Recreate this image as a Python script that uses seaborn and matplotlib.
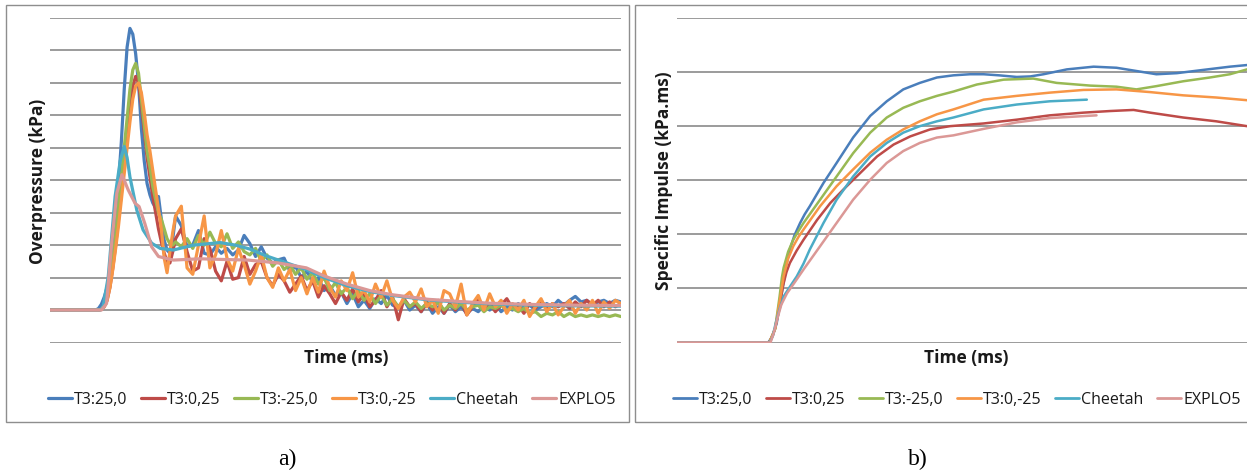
import numpy as np
import pandas as pd
import matplotlib
matplotlib.use("Agg")
import matplotlib.pyplot as plt
import seaborn as sns
from matplotlib.patches import Rectangle
from matplotlib.lines import Line2D

sns.set_theme(style="white")
plt.rcParams["font.family"] = ["Open Sans", "DejaVu Sans"]

series_names = ["T3:25,0", "T3:0,25", "T3:-25,0", "T3:0,-25", "Cheetah", "EXPLO5"]
series_colors = ["#4A7EBB", "#BE4B48", "#98B954", "#F79646", "#4BACC6", "#DB9896"]

# ---------------- a) overpressure histories ----------------
# sample times shared by the four T3 gauges (fine around the peak)
t_gauge = np.concatenate([[0, 4], np.arange(8, 22.5, 0.5), np.arange(23, 101, 1)])

p_t3_25_0 = [
    0, 0, 0.0, 0.05, 0.18, 0.4, 0.7, 1.2, 1.9, 2.8, 3.9, 5.2, 6.8, 8.1, 8.68, 8.5,
    7.9, 7.0, 5.6, 4.6, 3.9, 3.55, 3.3, 3.15, 3.5, 2.8, 2.15, 1.85, 1.75, 2.2, 2.9,
    2.6, 1.95, 2.0, 2.45, 1.75, 1.7, 1.95, 1.75, 1.9, 1.7, 1.85, 2.3, 2.05, 1.65, 1.95, 1.6,
    1.45, 1.55, 1.6, 1.2, 1.35, 1.0, 1.2, 0.85, 1.0, 0.6, 0.75, 0.45, 0.55, 0.2, 0.5, 0.1,
    0.3, 0.05, 0.35, 0.2, 0.45, 0.15, 0.1, 0.3, 0.0, 0.15, -0.05, 0.2, -0.1, 0.1, -0.1, 0.15,
    -0.05, 0.1, -0.1, 0.05, -0.05, 0.15, 0.0, 0.2, -0.05, 0.1, 0.0, 0.2, 0.05, 0.15, 0.0, 0.1,
    0.2, 0.1, 0.3, 0.15, 0.3, 0.42, 0.25, 0.3, 0.15, 0.25, 0.3, 0.2, 0.3, 0.25,
]
p_t3_0_25 = [
    0, 0, 0, 0, 0.02, 0.1, 0.3, 0.7, 1.3, 2.0, 2.8, 3.6, 4.5, 5.4, 6.3, 6.9,
    7.2, 7.0, 6.3, 5.5, 4.7, 4.1, 3.5, 3.0, 2.5, 2.1, 1.75, 1.5, 1.45, 1.8, 2.2,
    2.5, 1.8, 1.2, 1.3, 2.2, 1.9, 1.2, 0.9, 1.5, 0.95, 1.0, 1.65, 1.1, 1.4, 1.5, 1.0,
    0.75, 1.1, 0.9, 0.55, 0.8, 1.05, 0.6, 0.9, 0.4, 0.75, 0.5, 0.2, 0.55, 0.3, 0.65, 0.25,
    0.5, 0.1, 0.3, 0.6, 0.1, 0.4, -0.3, 0.35, 0.1, 0.2, -0.05, 0.25, 0.0, 0.3, -0.1, 0.2,
    0.0, 0.25, -0.15, 0.1, 0.3, 0.0, 0.2, -0.05, 0.15, 0.35, 0.05, 0.15, -0.1, 0.2, 0.05, 0.3,
    0.05, 0.2, 0.1, 0.2, 0.05, 0.25, 0.1, 0.3, 0.15, 0.3, 0.1, 0.25, 0.1, 0.2,
]
p_t3_m25_0 = [
    0, 0, 0, 0, 0.03, 0.15, 0.4, 0.85, 1.5, 2.3, 3.2, 4.1, 5.0, 5.9, 6.8, 7.4,
    7.6, 7.3, 6.5, 5.7, 4.9, 4.4, 3.8, 3.4, 3.0, 2.8, 2.5, 2.2, 2.05, 2.0, 2.1,
    1.95, 2.2, 1.9, 2.3, 2.0, 2.4, 2.05, 1.95, 2.35, 1.9, 2.1, 1.8, 1.7, 1.9, 1.5, 1.7,
    1.35, 1.55, 1.25, 1.4, 1.1, 1.3, 0.95, 1.15, 0.8, 1.0, 0.6, 0.85, 0.5, 0.7, 0.35, 0.6,
    0.3, 0.5, 0.2, 0.45, 0.15, 0.35, 0.1, 0.3, 0.1, 0.25, 0.05, 0.2, 0.1, 0.25, 0.0, 0.15,
    0.05, 0.2, 0.0, 0.1, 0.15, -0.05, 0.1, 0.05, 0.15, 0.0, 0.05, -0.05, 0.05, -0.1, -0.05, -0.2,
    -0.1, -0.15, -0.05, -0.2, -0.1, -0.2, -0.15, -0.2, -0.15, -0.2, -0.15, -0.2, -0.15, -0.2,
]
p_t3_0_m25 = [
    0, 0, 0, 0, 0.02, 0.1, 0.3, 0.7, 1.25, 1.9, 2.6, 3.4, 4.2, 5.0, 5.8, 6.5,
    6.9, 7.0, 6.7, 6.1, 5.4, 4.9, 4.3, 3.7, 3.1, 2.5, 1.6, 1.15, 1.8, 2.4, 2.9,
    3.2, 1.3, 1.1, 2.0, 2.9, 1.3, 1.7, 2.45, 1.6, 1.2, 1.9, 1.4, 0.8, 1.2, 1.7, 1.0,
    0.7, 1.3, 0.9, 1.25, 0.6, 1.0, 0.5, 1.0, 0.55, 1.2, 0.7, 0.4, 0.9, 0.6, 1.15, 0.4,
    0.6, 0.25, 0.8, 0.4, 0.9, 0.3, 0.05, 0.4, 0.55, 0.25, 0.65, 0.1, 0.3, -0.1, 0.6, 0.5,
    0.1, 0.8, -0.15, 0.2, 0.45, 0.0, 0.5, 0.1, 0.3, -0.1, 0.2, 0.0, 0.3, -0.2, 0.1, 0.35,
    -0.05, 0.2, -0.15, 0.1, 0.3, -0.1, 0.2, 0.0, 0.3, -0.1, 0.25, 0.05, 0.3, 0.2,
]

t_cheetah_a = [0, 8.8, 9.3, 10.2, 11.4, 12.3, 13.0, 13.5, 14.0, 15.2, 16.3, 17.8, 19.3, 21.6,
               25.1, 29.8, 32.5, 35, 37.7, 41, 44.8, 48, 52, 56, 60, 66.3, 72, 77, 85, 92, 100]
p_cheetah = [0, 0, 0.1, 1.03, 3.5, 4.6, 5.04, 4.7, 4.1, 3.08, 2.47, 2.06, 1.9, 1.85,
             2.0, 2.08, 2.0, 1.88, 1.68, 1.48, 1.25, 1.0, 0.75, 0.57, 0.45, 0.31, 0.24, 0.19, 0.15, 0.13, 0.12]

t_explo_a = [0, 9.0, 9.9, 10.8, 11.7, 12.6, 13.7, 14.9, 15.6, 16.6, 17.8, 19.0, 21.6, 26.3,
             30, 34.7, 40, 44.9, 48, 52, 56, 60, 66.3, 72, 77, 85, 92, 100]
p_explo = [0, 0, 0.2, 2.06, 3.6, 4.17, 3.7, 3.29, 3.19, 2.67, 1.95, 1.65, 1.54, 1.58,
           1.56, 1.54, 1.45, 1.3, 1.05, 0.8, 0.6, 0.47, 0.33, 0.26, 0.21, 0.17, 0.15, 0.14]

# ---------------- b) specific impulse ----------------
t_imp_t3_25_0 = [0, 16.0, 16.8, 17.5, 18.1, 18.7, 19.2, 19.8, 20.6, 21.6, 22.4, 23.3, 25.7, 28.0,
                 30.9, 33.9, 36.8, 39.7, 42.6, 45.6, 48.5, 51.4, 53.8, 56.5, 59.6, 62, 64.3,
                 68.4, 73.1, 77.1, 80.6, 84.1, 87.7, 92.3, 97.0, 100]
i_t3_25_0 = [0, 0, 0.12, 0.36, 0.75, 1.1, 1.45, 1.72, 1.98, 2.21, 2.37, 2.52, 2.95, 3.32,
             3.79, 4.19, 4.46, 4.68, 4.8, 4.9, 4.94, 4.96, 4.96, 4.94, 4.91, 4.92, 4.96,
             5.05, 5.1, 5.08, 5.02, 4.96, 4.98, 5.04, 5.1, 5.13]

t_imp_t3_0_25 = [0, 16.2, 17.2, 17.7, 18.1, 18.6, 19.2, 19.8, 21.0, 22.2, 24.6, 26.9, 29.2, 32.2,
                 35.1, 38.0, 40.9, 44.4, 47.9, 51.4, 53.8, 59.6, 65.4, 71.3, 76.0, 80.1, 83,
                 88.8, 94.6, 100]
i_t3_0_25 = [0, 0, 0.25, 0.5, 0.73, 1.05, 1.3, 1.47, 1.7, 1.9, 2.27, 2.58, 2.83, 3.14,
             3.44, 3.66, 3.81, 3.94, 4.0, 4.03, 4.05, 4.12, 4.2, 4.25, 4.28, 4.3, 4.25,
             4.16, 4.09, 4.0]

t_imp_t3_m25_0 = [0, 16.2, 17.2, 17.6, 18.0, 18.4, 18.7, 19.5, 20.4, 21.3, 22.2, 25.1, 28, 30.9,
                  33.9, 36.8, 39.7, 42.6, 45.6, 48.5, 52.6, 57.3, 62.5, 66.6, 72.5, 77.1, 80.6,
                  84.1, 88.8, 93.5, 97.0, 100]
i_t3_m25_0 = [0, 0, 0.25, 0.55, 0.85, 1.2, 1.38, 1.68, 1.9, 2.06, 2.21, 2.64, 3.07, 3.5,
              3.88, 4.16, 4.34, 4.46, 4.56, 4.64, 4.77, 4.86, 4.88, 4.8, 4.75, 4.73, 4.68,
              4.74, 4.83, 4.9, 4.96, 5.05]

t_imp_t3_0_m25 = [0, 16.2, 17.2, 17.6, 18.0, 18.7, 19.5, 20.4, 21.3, 22.2, 25.1, 28, 30.9, 33.9,
                  36.8, 39.7, 42.6, 45.6, 48.5, 53.8, 59.6, 65.4, 71.3, 77.1, 83, 88.8, 94.6, 100]
i_t3_0_m25 = [0, 0, 0.25, 0.5, 0.75, 1.22, 1.55, 1.78, 1.95, 2.09, 2.52, 2.89, 3.2, 3.51,
              3.75, 3.94, 4.09, 4.22, 4.31, 4.49, 4.56, 4.62, 4.67, 4.68, 4.63, 4.57, 4.53, 4.48]

t_imp_cheetah = [0, 16.3, 16.8, 17.3, 18.0, 18.7, 19.8, 21, 22.2, 23.3, 25.7, 28, 30.9, 33.9,
                 36.8, 39.7, 42.6, 45.6, 48.5, 53.8, 59.6, 65.4, 71.9]
i_cheetah = [0, 0, 0.12, 0.35, 0.62, 0.85, 1.03, 1.22, 1.46, 1.72, 2.21, 2.64, 3.07, 3.44,
             3.69, 3.88, 4.0, 4.09, 4.16, 4.31, 4.4, 4.46, 4.49]

t_imp_explo = [0, 16.4, 16.9, 17.5, 18.3, 19.3, 20.7, 22.2, 25.1, 28, 30.9, 33.9, 36.8, 39.7,
               42.6, 45.6, 48.5, 53.8, 59.6, 65.4, 73.6]
i_explo = [0, 0, 0.15, 0.4, 0.7, 0.91, 1.12, 1.35, 1.78, 2.21, 2.64, 3.01, 3.32, 3.54,
           3.69, 3.79, 3.83, 3.95, 4.07, 4.15, 4.2]

pressure_series = [
    (t_gauge, p_t3_25_0), (t_gauge, p_t3_0_25), (t_gauge, p_t3_m25_0), (t_gauge, p_t3_0_m25),
    (t_cheetah_a, p_cheetah), (t_explo_a, p_explo),
]
impulse_series = [
    (t_imp_t3_25_0, i_t3_25_0), (t_imp_t3_0_25, i_t3_0_25), (t_imp_t3_m25_0, i_t3_m25_0),
    (t_imp_t3_0_m25, i_t3_0_m25), (t_imp_cheetah, i_cheetah), (t_imp_explo, i_explo),
]

W, H = 1247, 476
fig = plt.figure(figsize=(W / 100, H / 100), dpi=100)
fig.patch.set_facecolor("white")


def px_box(x0, y_top, x1, y_bot):
    return [x0 / W, 1 - y_bot / H, (x1 - x0) / W, (y_bot - y_top) / H]


ax_a = fig.add_axes(px_box(50, 18, 621, 342.5))
ax_b = fig.add_axes(px_box(677, 18, 1247, 342.5))

# chart frames
fig.patches.append(Rectangle((6 / W, 1 - 422 / H), 623 / W, 417 / H, transform=fig.transFigure,
                             fill=False, edgecolor="#8E8E8E", lw=1.0))
fig.patches.append(Rectangle((635 / W, 1 - 422 / H), 640 / W, 417 / H, transform=fig.transFigure,
                             fill=False, edgecolor="#8E8E8E", lw=1.0))


def draw(ax, series, lw):
    for (t, v), name, col in zip(series, series_names, series_colors):
        df = pd.DataFrame({"t": t, "v": v})
        sns.lineplot(data=df, x="t", y="v", ax=ax, color=col, lw=lw, estimator=None,
                     sort=False, legend=False, solid_joinstyle="round", solid_capstyle="round")


draw(ax_a, pressure_series, 2.3)
draw(ax_b, impulse_series, 1.8)

for ax, (lo, hi) in ((ax_a, (-1, 9)), (ax_b, (0, 6))):
    ax.set_xlim(0, 100)
    ax.set_ylim(lo, hi)
    ax.set_yticks(np.arange(lo, hi + 1))
    ax.set_xticks([])
    ax.yaxis.grid(True, color="#8A8A8A", lw=1.2)
    ax.set_axisbelow(True)
    ax.tick_params(length=0, labelleft=False, labelbottom=False)
    ax.set_xlabel("")
    ax.set_ylabel("")
    for sp in ax.spines.values():
        sp.set_visible(False)
    ax.set_facecolor("none")

label_kw = dict(fontsize=12.5, fontweight="bold", color="#1A1A1A", ha="center", va="center")
fig.text(38 / W, 1 - 181 / H, "Overpressure (kPa)", rotation=90, **label_kw)
fig.text(664 / W, 1 - 181 / H, "Specific Impulse (kPa.ms)", rotation=90, **label_kw)
fig.text(346 / W, 1 - 358 / H, "Time (ms)", **label_kw)
fig.text(966 / W, 1 - 358 / H, "Time (ms)", **label_kw)

for cx, lw in ((332, 2.3), (957, 2.0)):
    handles = [Line2D([], [], color=c, lw=lw) for c in series_colors]
    fig.legend(handles, series_names, ncol=6, loc="center", bbox_to_anchor=(cx / W, 1 - 400 / H),
               frameon=False, fontsize=11.5, handlelength=1.5, handletextpad=0.12,
               columnspacing=0.85, labelcolor="#1A1A1A")

cap_kw = dict(fontsize=17, family=["Liberation Serif", "DejaVu Serif"], ha="center", va="center",
              color="black")
fig.text(287 / W, 1 - 459 / H, "a)", **cap_kw)
fig.text(918 / W, 1 - 459 / H, "b)", **cap_kw)

fig.savefig("out.png", dpi=100, facecolor="white")
